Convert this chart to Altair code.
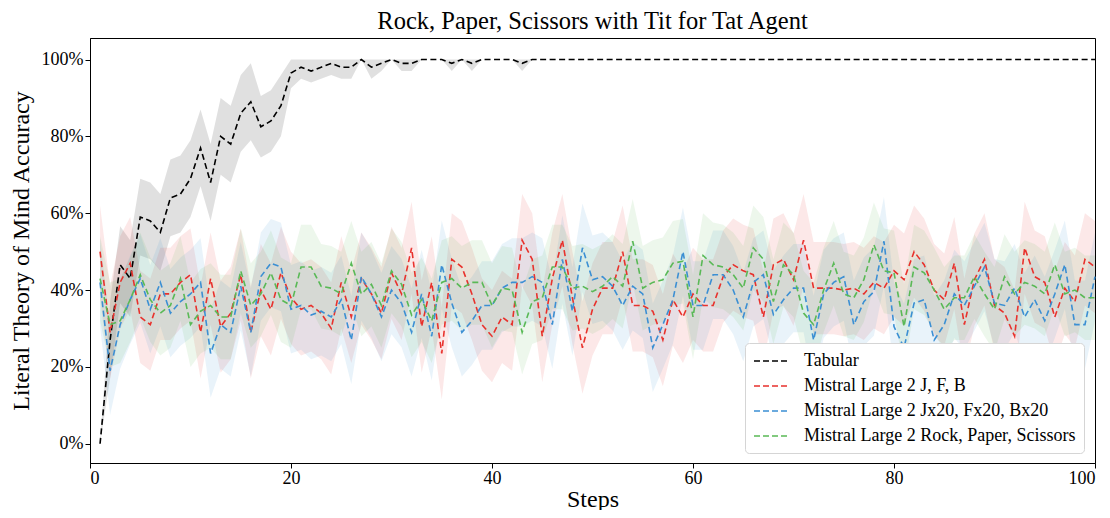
import altair as alt
import pandas as pd

steps = list(range(1, 101))

tabular = [0, 27, 46.6, 43, 59, 58, 55, 64, 65, 69, 77, 68, 80, 78, 86, 89, 82.5, 84, 88, 96.5,
           98, 97, 98, 99, 98, 98, 100, 98, 99, 100, 99, 99, 100, 100, 100, 99, 100, 99, 100, 100,
           100, 100, 99, 100, 100, 100, 100, 100, 100, 100, 100, 100, 100, 100, 100, 100, 100, 100, 100, 100,
           100, 100, 100, 100, 100, 100, 100, 100, 100, 100, 100, 100, 100, 100, 100, 100, 100, 100, 100, 100,
           100, 100, 100, 100, 100, 100, 100, 100, 100, 100, 100, 100, 100, 100, 100, 100, 100, 100, 100, 100]
tabular_half = [0, 10, 10, 10, 10, 10, 10, 10, 10, 10, 10, 10, 10, 10, 10, 10, 8, 8, 8, 4,
                3, 3, 3, 3, 3, 3, 0, 3, 2, 0, 2, 2, 0, 0, 0, 2, 0, 2, 0, 0,
                0, 0, 2] + [0] * 57

jfb = [50, 29, 42, 47, 33, 31, 39, 39, 42, 44, 29, 43, 30.5, 34, 44, 29, 40, 35, 44.5, 38,
       35, 36, 34, 30, 42, 33, 43, 39, 34, 44.5, 39, 51, 30.5, 42, 23.5, 48, 46, 39, 31, 28,
       33, 31, 53, 48, 28, 43, 53, 38, 25, 35, 40.5, 40.5, 50, 36, 36, 34.5, 27, 37.5, 33, 39,
       36, 36, 43.5, 46.6, 45, 44, 33, 46.6, 48, 42.7, 53, 40.5, 40.5, 40.5, 40, 40.5, 39, 42, 40.5, 45,
       42.7, 50, 46.6, 40, 37.5, 47, 31, 42.7, 48, 36, 34, 28, 51, 43.5, 42, 33, 40.5, 37, 48, 46]

x20 = [42, 19, 31, 37.5, 43, 35, 42, 34, 37, 39, 42, 23.5, 31, 29, 41, 29, 43.5, 47, 46, 35,
       36, 33.5, 34.5, 33, 37.5, 27, 43.5, 39, 33, 40, 36.6, 29, 39, 28, 46.6, 36.6, 29, 32, 36, 36,
       40.5, 42, 42, 43.5, 42, 31, 48, 34.5, 51, 42.7, 43.5, 41, 36, 41, 39, 25, 31, 37.5, 50, 36,
       36, 44, 44, 40, 33, 42, 44, 33.6, 37.5, 40.5, 40.5, 27, 39, 42, 43.5, 31, 37, 39.6, 52.7, 30.5,
       25, 36.6, 37.5, 27, 31, 39, 36, 41, 46, 36.6, 36, 40.5, 33, 37.5, 32, 39, 46.6, 31, 31, 43.5]

rps = [43, 31, 32, 37.5, 44, 37.5, 34, 36, 43, 31, 34.5, 36, 33, 33, 45, 36, 39, 44.5, 37.5, 36,
       46, 46, 41, 40.5, 39, 47, 39, 41.5, 36, 45, 41.5, 33.5, 37.5, 32, 42, 43, 40.5, 42, 42, 36,
       40.5, 40, 29, 37, 38, 46, 46, 40.5, 41, 39.6, 41, 43.5, 41, 52.7, 40.5, 42, 42.7, 47, 47.5, 33,
       49, 46.6, 46, 44, 40.5, 51, 48, 37, 46.6, 44, 34, 31, 40, 47, 39, 38, 42.7, 51.8, 45, 44.5,
       30.5, 46, 44.5, 40, 35, 38, 38, 43.5, 39, 35, 43.5, 39, 42, 41, 39, 46.6, 39, 40, 38, 38]

series_names = ["Tabular", "Mistral Large 2 J, F, B", "Mistral Large 2 Jx20, Fx20, Bx20",
                "Mistral Large 2 Rock, Paper, Scissors"]
series_colors = ["#000000", "#e8312c", "#3b8fd3", "#59b956"]
band_halves = [None, 12, 11.5, 11]

rows = []
for name, vals, half in zip(series_names, [tabular, jfb, x20, rps], band_halves):
    for i, (s, v) in enumerate(zip(steps, vals)):
        h = tabular_half[i] if half is None else half
        rows.append({"step": s, "value": v, "lower": max(0, v - h), "upper": min(100, v + h),
                     "series": name})
df = pd.DataFrame(rows)

FONT = "Liberation Serif"
color_scale = alt.Scale(domain=series_names, range=series_colors)
xs = alt.Scale(domain=[0, 100], nice=False, zero=False)
ys = alt.Scale(domain=[-5, 105.6], nice=False, zero=False)

x_axis = alt.Axis(title="Steps", values=[0, 20, 40, 60, 80, 100], format="d",
                  titleY=43, titleBaseline="alphabetic", labelPadding=1)
y_axis = alt.Axis(title="Literal Theory of Mind Accuracy", values=[0, 20, 40, 60, 80, 100],
                  labelExpr="datum.value + '%'", titlePadding=8)
legend = alt.Legend(title=None, orient="none", legendX=655, legendY=305,
                    symbolType="M-3,0L1,0", symbolSize=324, symbolOffset=18, symbolStrokeWidth=1.6,
                    symbolDash=[6, 3], labelFontSize=18, labelFont=FONT, labelLimit=500,
                    labelColor="#000000", fillColor="white", strokeColor="#d5d5d5", padding=8,
                    cornerRadius=4, rowPadding=6, labelOffset=13)

layers = []
for name, col in zip(series_names, series_colors):
    sub = df[df.series == name]
    band = alt.Chart(sub).mark_area(color=col, opacity=0.12 if name == "Tabular" else 0.11,
                                    strokeWidth=0).encode(
        x=alt.X("step:Q", scale=xs, axis=x_axis),
        y=alt.Y("lower:Q", scale=ys, axis=y_axis),
        y2="upper:Q",
    )
    layers.append(band)
for name in series_names:
    sub = df[df.series == name]
    line = alt.Chart(sub).mark_line(strokeDash=[6, 3.5], strokeWidth=1.6).encode(
        x=alt.X("step:Q", scale=xs, axis=x_axis),
        y=alt.Y("value:Q", scale=ys, axis=y_axis),
        color=alt.Color("series:N", scale=color_scale, sort=series_names, legend=legend),
    )
    layers.append(line)

chart = alt.layer(*layers).properties(
    width=1005, height=425,
    title=alt.Title("Rock, Paper, Scissors with Tit for Tat Agent", font=FONT, fontSize=24.5,
                    fontWeight="normal", color="#000000", offset=4),
    autosize=alt.AutoSizeParams(type="none"),
    padding={"left": 82, "top": 30, "right": 7, "bottom": 47},
).configure_view(stroke="#000000", strokeWidth=1).configure_axis(
    labelFont=FONT, titleFont=FONT, labelFontSize=18, titleFontSize=24, titleFontWeight="normal",
    labelColor="#000000", titleColor="#000000", domainColor="#000000", tickColor="#000000",
    grid=False, tickSize=5,
)

chart.save("out.html", embed_options={"renderer": "svg", "actions": False})
